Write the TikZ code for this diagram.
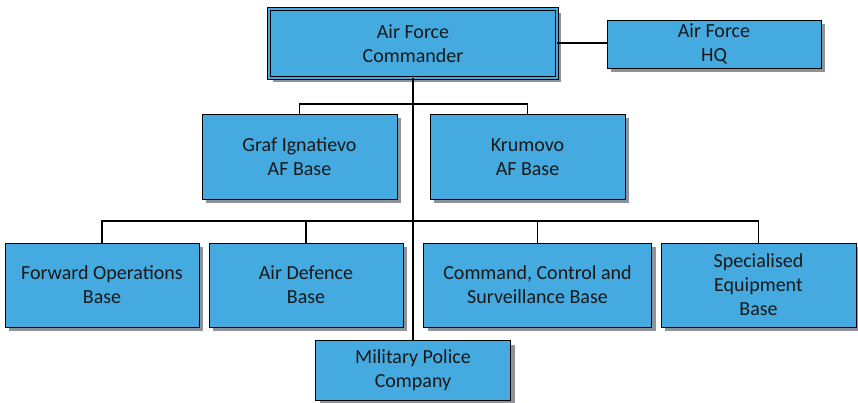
\documentclass[tikz,border=0pt]{standalone}
\usepackage{fontspec}
\setmainfont{Carlito}
\usetikzlibrary{shadows}
\definecolor{boxblue}{RGB}{69,170,224}
\definecolor{shadowgray}{RGB}{145,145,152}
\tikzset{
  unit/.style={draw=black, line width=0.9pt, fill=boxblue, align=center,
    inner sep=0pt, font=\fontsize{20}{24}\selectfont, text=black!90,
    drop shadow={shadow xshift=4pt, shadow yshift=-4pt, fill=shadowgray, opacity=1}},
  link/.style={line width=1.1pt},
  trunk/.style={line width=1.8pt}
}
\begin{document}
\begin{tikzpicture}[x=1pt,y=-1pt]
\useasboundingbox (0,0) rectangle (858,403);

% command level
\node[unit, double=boxblue, double distance=1.6pt, minimum width=288pt, minimum height=69pt]
  (cmdr) at (413,43.5) {Air Force\\Commander};
\node[unit, minimum width=214pt, minimum height=48pt] (hq) at (714,44) {Air Force\\HQ};

% air bases
\node[unit, minimum width=195pt, minimum height=85pt] (graf) at (299.5,157) {Graf Ignatievo\\AF Base};
\node[unit, minimum width=195pt, minimum height=85pt] (krum) at (527.5,157) {Krumovo\\AF Base};

% other units
\node[unit, minimum width=194pt, minimum height=84pt] (fob) at (102,285) {Forward Operations\\Base};
\node[unit, minimum width=194pt, minimum height=84pt] (adb) at (306,285) {Air Defence\\Base};
\node[unit, minimum width=228pt, minimum height=84pt] (ccs) at (537.5,285) {Command, Control and\\Surveillance Base};
\node[unit, minimum width=195pt, minimum height=84pt] (seb) at (758.5,285) {Specialised\\Equipment\\Base};
\node[unit, minimum width=195pt, minimum height=60pt] (mp) at (413,370.5) {Military Police\\Company};

% junctions
\coordinate (j1) at (413,104);
\coordinate (j2) at (413,221);

% connectors
\draw[link] (cmdr.east |- 0,43) -- (hq.west |- 0,43);
\draw[trunk] (cmdr.south) -- (j2);
\draw[link] (j2) -- (mp.north);
\draw[link] (graf.north) |- (j1) -| (krum.north);
\draw[link] (fob.north) |- (j2) -| (seb.north);
\draw[link] (adb.north) -- (adb.north |- j2);
\draw[link] (ccs.north) -- (ccs.north |- j2);

\end{tikzpicture}
\end{document}
